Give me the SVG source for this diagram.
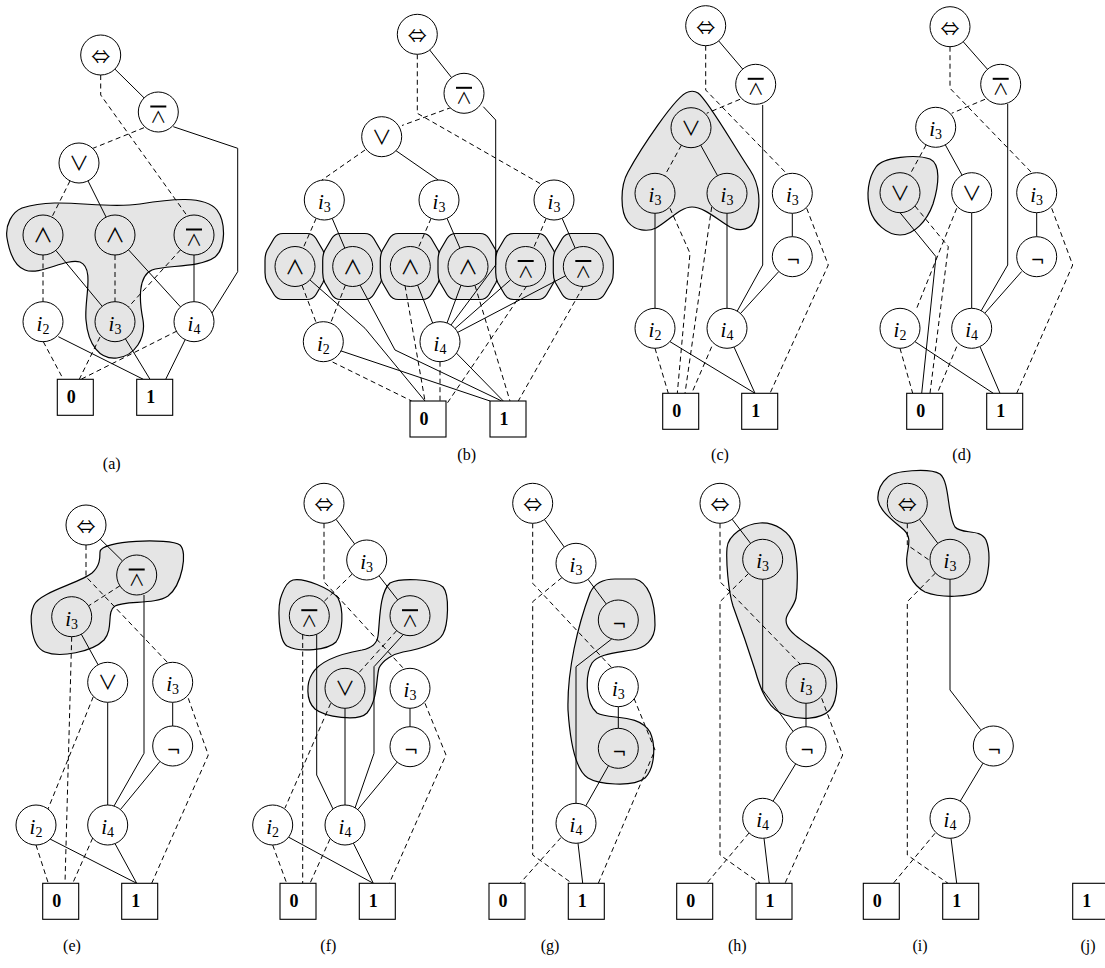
<svg xmlns="http://www.w3.org/2000/svg" xmlns:xlink="http://www.w3.org/1999/xlink" width="1105" height="968" viewBox="0 0 1105 968">
<style>
.nd circle{fill:#fff;stroke:#000;stroke-width:1}
.nd.hl circle{fill:#e5e5e5}
.tm rect{fill:#fff;stroke:#000;stroke-width:1.1}
.blob{fill:#e5e5e5;stroke:#000;stroke-width:1.2}
.e{fill:none;stroke:#000;stroke-width:1}
.d{stroke-dasharray:5 3.5}
.var{font-family:"Liberation Serif",serif;font-style:italic;font-size:21px;text-anchor:middle}
.sb{font-style:normal;font-size:14px}
.op{font-family:"Noto Sans CJK JP","DejaVu Sans",sans-serif;font-size:20px;text-anchor:middle}
.eq{font-family:"Noto Sans CJK JP","DejaVu Sans",sans-serif;font-size:19px;text-anchor:middle}
.na{font-family:"Noto Sans CJK JP","DejaVu Sans",sans-serif;font-size:16px;text-anchor:middle}
.ng{font-family:"DejaVu Sans",sans-serif;font-size:17px;text-anchor:middle}
.bar{stroke:#000;stroke-width:2}
.tt{font-family:"Liberation Serif",serif;font-weight:bold;font-size:18px;text-anchor:middle}
.cap{font-family:"Liberation Serif",serif;font-size:16px;text-anchor:middle}
</style>
<defs>
<path id="oct" fill="#e5e5e5" stroke="#000" stroke-width="1.2" d="M-12,-33 L12,-33 Q18,-33 21,-28 L28,-16 Q30,-12 30,-6 L30,6 Q30,12 28,16 L21,28 Q18,33 12,33 L-12,33 Q-18,33 -21,28 L-28,16 Q-30,12 -30,6 L-30,-6 Q-30,-12 -28,-16 L-21,-28 Q-18,-33 -12,-33 Z"/>
</defs>

<!-- ===== (a) ===== -->
<g id="fig-a">
<g id="a-blobs"><path class="blob" d="M7,238 C5,225 12,212 22,208 C60,196 100,210 140,204 C170,199 205,195 217,210 C226,222 226,248 215,257 C200,268 165,265 152,270 C138,276 139,300 143,320 C146,338 135,356 117,358 C100,360 88,345 86,320 C84,300 95,268 80,262 C65,258 40,276 25,270 C14,266 9,250 7,238 Z"/></g>
<g id="a-edges">
<path class="e" d="M114.9,69.1 L144.1,97.9"/>
<path class="e d" d="M100.7,75 V95 L188,217"/>
<path class="e d" d="M144,127.7 L93,148.3"/>
<path class="e" d="M173.3,126.7 L237.7,148.3 V271.7 L212,313"/>
<path class="e d" d="M70,180.9 L51.9,217.1"/>
<path class="e" d="M88,180.9 L106.1,217.1"/>
<path class="e d" d="M43,255 V301.7"/>
<path class="e" d="M55.8,250.4 L102.2,306.3"/>
<path class="e d" d="M115,255 V301.7"/>
<path class="e" d="M128.5,249.8 L180.5,306.9"/>
<path class="e d" d="M180.5,249.8 L128.5,306.9"/>
<path class="e" d="M194,255 V301.7"/>
<path class="e d" d="M43.3,341.7 L63.3,379.3"/>
<path class="e" d="M58.3,336.7 L143.3,379.3"/>
<path class="e d" d="M100,337 L79.3,379.3"/>
<path class="e" d="M125.4,338.8 L150,379.3"/>
<path class="e d" d="M177,331 L81,379.3"/>
<path class="e" d="M185.2,339.6 L165.7,379.3"/>
</g>
<g id="a-eq" class="nd"><circle cx="100.7" cy="55" r="20"/><text class="eq" x="100.7" y="64">⇔</text></g>
<g id="a-nand" class="nd"><circle cx="158.3" cy="112" r="20"/><line class="bar" x1="150.3" y1="106.5" x2="166.3" y2="106.5"/><text class="na" x="158.3" y="123">∧</text></g>
<g id="a-or" class="nd"><circle cx="79" cy="163" r="20"/><text class="op" x="79" y="171">∨</text></g>
<g id="a-and1" class="nd hl"><circle cx="43" cy="235" r="20"/><text class="op" x="43" y="243">∧</text></g>
<g id="a-and2" class="nd hl"><circle cx="115" cy="235" r="20"/><text class="op" x="115" y="243">∧</text></g>
<g id="a-nand2" class="nd hl"><circle cx="194" cy="235" r="20"/><line class="bar" x1="186" y1="229.5" x2="202" y2="229.5"/><text class="na" x="194" y="246">∧</text></g>
<g id="a-i2" class="nd"><circle cx="43" cy="321.7" r="20"/><text class="var" x="43" y="330.7">i<tspan class="sb" dy="3">2</tspan></text></g>
<g id="a-i3" class="nd hl"><circle cx="115" cy="321.7" r="20"/><text class="var" x="115" y="330.7">i<tspan class="sb" dy="3">3</tspan></text></g>
<g id="a-i4" class="nd"><circle cx="194" cy="321.7" r="20"/><text class="var" x="194" y="330.7">i<tspan class="sb" dy="3">4</tspan></text></g>
<g id="a-t0" class="tm"><rect x="57.3" y="379.3" width="36" height="36"/><text class="tt" x="71.3" y="403.3">0</text></g>
<g id="a-t1" class="tm"><rect x="136.7" y="379.3" width="36" height="36"/><text class="tt" x="150.7" y="403.3">1</text></g>
<text class="cap" x="111.7" y="469">(a)</text>
</g>

<!-- ===== (b) ===== -->
<g id="fig-b">
<g id="b-blobs">
<use xlink:href="#oct" x="295" y="266.5"/>
<use xlink:href="#oct" x="352.7" y="266.5"/>
<use xlink:href="#oct" x="410.3" y="266.5"/>
<use xlink:href="#oct" x="468" y="266.5"/>
<use xlink:href="#oct" x="525.7" y="266.5"/>
<use xlink:href="#oct" x="583.3" y="266.5"/>
</g>
<g id="b-edges">
<path class="e" d="M429.7,50 L451.6,77.6"/>
<path class="e d" d="M417.3,54.3 V113.3 L540,183.5"/>
<path class="e d" d="M451.7,107.3 L402,125.5"/>
<path class="e" d="M483.3,106.7 L495.7,120 V265 L451,325"/>
<path class="e d" d="M365,150 L322,180"/>
<path class="e" d="M395,150 L438.3,180"/>
<path class="e d" d="M316.2,218.3 L303.1,248.2"/>
<path class="e" d="M332.2,218.4 L344.8,248.1"/>
<path class="e d" d="M431.1,218.4 L418.2,248.1"/>
<path class="e" d="M447,218.3 L460,248.2"/>
<path class="e d" d="M546.2,218.4 L533.5,248.1"/>
<path class="e" d="M562.1,218.3 L575.2,248.2"/>
<path class="e d" d="M302,285.2 L316.3,323"/>
<path class="e" d="M310,280 L365,328.3 L425,401"/>
<path class="e d" d="M345.4,285.1 L330.6,323.1"/>
<path class="e" d="M360,285 L395,350 L501.7,401"/>
<path class="e d" d="M405,285.5 L425,401"/>
<path class="e" d="M417.6,285.1 L432.7,323.1"/>
<path class="e" d="M461,285.2 L447,323"/>
<path class="e d" d="M475,285.5 L510,401"/>
<path class="e" d="M510.7,279.7 L455,328.5"/>
<path class="e d" d="M526.7,286 L446,405"/>
<path class="e" d="M565.6,275.8 L457.7,332.4"/>
<path class="e d" d="M583.3,286.5 L518.3,401"/>
<path class="e d" d="M325,358.3 L411.7,401"/>
<path class="e" d="M338.3,350 L490,401"/>
<path class="e d" d="M440,361.7 V401"/>
<path class="e" d="M455,351.7 L503.3,401"/>
</g>
<g id="b-eq" class="nd"><circle cx="417.3" cy="34.3" r="20"/><text class="eq" x="417.3" y="43.3">⇔</text></g>
<g id="b-nand" class="nd"><circle cx="464" cy="93.3" r="20"/><line class="bar" x1="456" y1="87.8" x2="472" y2="87.8"/><text class="na" x="464" y="104.3">∧</text></g>
<g id="b-or" class="nd"><circle cx="381.7" cy="136.7" r="20"/><text class="op" x="381.7" y="144.7">∨</text></g>
<g id="b-i3a" class="nd"><circle cx="324.3" cy="200" r="20"/><text class="var" x="324.3" y="209">i<tspan class="sb" dy="3">3</tspan></text></g>
<g id="b-i3b" class="nd"><circle cx="439" cy="200" r="20"/><text class="var" x="439" y="209">i<tspan class="sb" dy="3">3</tspan></text></g>
<g id="b-i3c" class="nd"><circle cx="554" cy="200" r="20"/><text class="var" x="554" y="209">i<tspan class="sb" dy="3">3</tspan></text></g>
<g id="b-g1" class="nd hl"><circle cx="295" cy="266.5" r="20"/><text class="op" x="295" y="274.5">∧</text></g>
<g id="b-g2" class="nd hl"><circle cx="352.7" cy="266.5" r="20"/><text class="op" x="352.7" y="274.5">∧</text></g>
<g id="b-g3" class="nd hl"><circle cx="410.3" cy="266.5" r="20"/><text class="op" x="410.3" y="274.5">∧</text></g>
<g id="b-g4" class="nd hl"><circle cx="468" cy="266.5" r="20"/><text class="op" x="468" y="274.5">∧</text></g>
<g id="b-g5" class="nd hl"><circle cx="525.7" cy="266.5" r="20"/><line class="bar" x1="517.7" y1="261" x2="533.7" y2="261"/><text class="na" x="525.7" y="277.5">∧</text></g>
<g id="b-g6" class="nd hl"><circle cx="583.3" cy="266.5" r="20"/><line class="bar" x1="575.3" y1="261" x2="591.3" y2="261"/><text class="na" x="583.3" y="277.5">∧</text></g>
<g id="b-i2" class="nd"><circle cx="323.3" cy="341.7" r="20"/><text class="var" x="323.3" y="350.7">i<tspan class="sb" dy="3">2</tspan></text></g>
<g id="b-i4" class="nd"><circle cx="440" cy="341.7" r="20"/><text class="var" x="440" y="350.7">i<tspan class="sb" dy="3">4</tspan></text></g>
<g id="b-t0" class="tm"><rect x="410" y="401" width="36" height="36"/><text class="tt" x="424" y="425">0</text></g>
<g id="b-t1" class="tm"><rect x="490" y="401" width="36" height="36"/><text class="tt" x="504" y="425">1</text></g>
<text class="cap" x="466.7" y="460">(b)</text>
</g>

<!-- ===== (c) ===== -->
<g id="fig-c">
<g id="c-blobs"><path class="blob" d="M688,92 C676,95 640,150 628,172 C620,186 620,212 628,222 C635,231 648,232 656,228 C670,220 680,207 692,207 C704,207 718,220 730,227 C740,232 752,230 756,218 C761,205 760,185 750,170 C735,148 708,100 698,93 C695,91 691,91 688,92 Z"/></g>
<g id="c-edges">
<path class="e" d="M718.7,40.9 L742.7,69.1"/>
<path class="e d" d="M705.7,45.7 V90 L787,174"/>
<path class="e d" d="M740,99.3 L706.7,113.3"/>
<path class="e" d="M762.7,105 V265 L737,311.5"/>
<path class="e d" d="M681.4,145.2 L664.6,175.8"/>
<path class="e" d="M700.7,145.2 L717.6,175.8"/>
<path class="e" d="M655,213.3 V308.3"/>
<path class="e d" d="M670,208.3 L690,253.3 L677.3,393.3"/>
<path class="e d" d="M711.7,207 L685,393.3"/>
<path class="e" d="M727,213.3 V308.3"/>
<path class="e" d="M792.3,213.3 V236.7"/>
<path class="e d" d="M806.7,208.3 L828.3,265 L770,393.3"/>
<path class="e" d="M778.8,271.5 L740.5,313.5"/>
<path class="e d" d="M655,348.3 L668.3,393.3"/>
<path class="e" d="M670,341.7 L755,393.3"/>
<path class="e d" d="M711.7,346.7 L691.7,393.3"/>
<path class="e" d="M734,347 L755,393.3"/>
</g>
<g id="c-eq" class="nd"><circle cx="705.7" cy="25.7" r="20"/><text class="eq" x="705.7" y="34.7">⇔</text></g>
<g id="c-nand" class="nd"><circle cx="755.7" cy="84.3" r="20"/><line class="bar" x1="747.7" y1="78.8" x2="763.7" y2="78.8"/><text class="na" x="755.7" y="95.3">∧</text></g>
<g id="c-or" class="nd hl"><circle cx="691" cy="127.7" r="20"/><text class="op" x="691" y="135.7">∨</text></g>
<g id="c-i3a" class="nd hl"><circle cx="655" cy="193.3" r="20"/><text class="var" x="655" y="202.3">i<tspan class="sb" dy="3">3</tspan></text></g>
<g id="c-i3b" class="nd hl"><circle cx="727" cy="193.3" r="20"/><text class="var" x="727" y="202.3">i<tspan class="sb" dy="3">3</tspan></text></g>
<g id="c-i3c" class="nd"><circle cx="792.3" cy="193.3" r="20"/><text class="var" x="792.3" y="202.3">i<tspan class="sb" dy="3">3</tspan></text></g>
<g id="c-not" class="nd"><circle cx="792.3" cy="256.7" r="20"/><text class="ng" x="793.3" y="266.3">¬</text></g>
<g id="c-i2" class="nd"><circle cx="655" cy="328.3" r="20"/><text class="var" x="655" y="337.3">i<tspan class="sb" dy="3">2</tspan></text></g>
<g id="c-i4" class="nd"><circle cx="727" cy="328.3" r="20"/><text class="var" x="727" y="337.3">i<tspan class="sb" dy="3">4</tspan></text></g>
<g id="c-t0" class="tm"><rect x="662.7" y="393.3" width="36" height="36"/><text class="tt" x="676.7" y="417.3">0</text></g>
<g id="c-t1" class="tm"><rect x="741.7" y="393.3" width="36" height="36"/><text class="tt" x="755.7" y="417.3">1</text></g>
<text class="cap" x="720" y="460">(c)</text>
</g>

<!-- ===== (d) ===== -->
<g id="fig-d">
<g id="d-blobs"><path class="blob" d="M876,167 C883,157 916,154 930,159 C941,164 939,185 933,204 C927,221 914,235 900,235 C887,235 874,223 870,210 C866,195 868,178 876,167 Z"/></g>
<g id="d-edges">
<path class="e" d="M963.2,41.7 L987.5,69.3"/>
<path class="e d" d="M950,46.7 V88.3 L1032,173"/>
<path class="e d" d="M985,99.3 L951.7,113.3"/>
<path class="e" d="M1007.7,104 V265 L981,311"/>
<path class="e d" d="M926.1,144.9 L909.6,175.1"/>
<path class="e" d="M945.3,144.8 L962.1,175.2"/>
<path class="e" d="M900,212.7 L936,256.7 L921.7,393.3"/>
<path class="e d" d="M915,206 L948.3,246.7 L930,393.3"/>
<path class="e d" d="M956.7,208.3 L916.7,308.3"/>
<path class="e" d="M971.7,212.7 V308.3"/>
<path class="e" d="M1036.7,212.7 V236.7"/>
<path class="e d" d="M1051.7,208.3 L1072.7,265 L1016.7,393.3"/>
<path class="e" d="M1021.7,271.5 L985,313"/>
<path class="e d" d="M900,348.3 L912.7,393.3"/>
<path class="e" d="M915,341.7 L993.3,393.3"/>
<path class="e d" d="M956.7,346.7 L937.3,393.3"/>
<path class="e" d="M980,346.7 L1000,393.3"/>
</g>
<g id="d-eq" class="nd"><circle cx="950" cy="26.7" r="20"/><text class="eq" x="950" y="35.7">⇔</text></g>
<g id="d-nand" class="nd"><circle cx="1000.7" cy="84.3" r="20"/><line class="bar" x1="992.7" y1="78.8" x2="1008.7" y2="78.8"/><text class="na" x="1000.7" y="95.3">∧</text></g>
<g id="d-i3" class="nd"><circle cx="935.7" cy="127.3" r="20"/><text class="var" x="935.7" y="136.3">i<tspan class="sb" dy="3">3</tspan></text></g>
<g id="d-or1" class="nd hl"><circle cx="900" cy="192.7" r="20"/><text class="op" x="900" y="200.7">∨</text></g>
<g id="d-or2" class="nd"><circle cx="971.7" cy="192.7" r="20"/><text class="op" x="971.7" y="200.7">∨</text></g>
<g id="d-i3c" class="nd"><circle cx="1036.7" cy="192.7" r="20"/><text class="var" x="1036.7" y="201.7">i<tspan class="sb" dy="3">3</tspan></text></g>
<g id="d-not" class="nd"><circle cx="1036.7" cy="256.7" r="20"/><text class="ng" x="1037.7" y="266.3">¬</text></g>
<g id="d-i2" class="nd"><circle cx="900" cy="328.3" r="20"/><text class="var" x="900" y="337.3">i<tspan class="sb" dy="3">2</tspan></text></g>
<g id="d-i4" class="nd"><circle cx="971.7" cy="328.3" r="20"/><text class="var" x="971.7" y="337.3">i<tspan class="sb" dy="3">4</tspan></text></g>
<g id="d-t0" class="tm"><rect x="906.7" y="393.3" width="36" height="36"/><text class="tt" x="920.7" y="417.3">0</text></g>
<g id="d-t1" class="tm"><rect x="986.7" y="393.3" width="36" height="36"/><text class="tt" x="1000.7" y="417.3">1</text></g>
<text class="cap" x="961.7" y="460">(d)</text>
</g>

<!-- ===== (e) ===== -->
<g id="fig-e">
<g id="e-blobs"><path class="blob" d="M100,552 C100,540 170,538 180,545 C188,552 182,585 168,596 C155,605 125,600 115,606 C106,612 114,628 104,640 C92,652 60,658 45,652 C30,646 29,615 34,605 C40,592 80,583 92,573 C100,566 100,558 100,552 Z"/></g>
<g id="e-edges">
<path class="e" d="M100.2,539 L122.5,561"/>
<path class="e d" d="M86,545 V576.7 L168,663"/>
<path class="e d" d="M119.9,585.8 L88.5,605.9"/>
<path class="e" d="M144,595 V753.3 L114,806"/>
<path class="e d" d="M71.7,636.7 L65,883.3"/>
<path class="e" d="M81.3,634.2 L98.1,664.8"/>
<path class="e d" d="M93.3,696.7 L48,809"/>
<path class="e" d="M107.7,702.3 V805"/>
<path class="e" d="M172.7,702.3 V726"/>
<path class="e d" d="M188.3,698.3 L208.3,755 L151.7,883.3"/>
<path class="e" d="M160,761.4 L120.4,809.6"/>
<path class="e d" d="M36,845 L48.3,883.3"/>
<path class="e" d="M50,839 L136.7,883.3"/>
<path class="e d" d="M92.7,838 L72.7,883.3"/>
<path class="e" d="M115,843.6 L136.7,883.3"/>
</g>
<g id="e-eq" class="nd"><circle cx="86" cy="525" r="20"/><text class="eq" x="86" y="534">⇔</text></g>
<g id="e-nand" class="nd hl"><circle cx="136.7" cy="575" r="20"/><line class="bar" x1="128.7" y1="569.5" x2="144.7" y2="569.5"/><text class="na" x="136.7" y="586">∧</text></g>
<g id="e-i3a" class="nd hl"><circle cx="71.7" cy="616.7" r="20"/><text class="var" x="71.7" y="625.7">i<tspan class="sb" dy="3">3</tspan></text></g>
<g id="e-or" class="nd"><circle cx="107.7" cy="682.3" r="20"/><text class="op" x="107.7" y="690.3">∨</text></g>
<g id="e-i3c" class="nd"><circle cx="172.7" cy="682.3" r="20"/><text class="var" x="172.7" y="691.3">i<tspan class="sb" dy="3">3</tspan></text></g>
<g id="e-not" class="nd"><circle cx="172.7" cy="746" r="20"/><text class="ng" x="173.7" y="755.6">¬</text></g>
<g id="e-i2" class="nd"><circle cx="36" cy="825" r="20"/><text class="var" x="36" y="834">i<tspan class="sb" dy="3">2</tspan></text></g>
<g id="e-i4" class="nd"><circle cx="107.7" cy="825" r="20"/><text class="var" x="107.7" y="834">i<tspan class="sb" dy="3">4</tspan></text></g>
<g id="e-t0" class="tm"><rect x="42.7" y="883.3" width="36" height="36"/><text class="tt" x="56.7" y="907.3">0</text></g>
<g id="e-t1" class="tm"><rect x="121.7" y="883.3" width="36" height="36"/><text class="tt" x="135.7" y="907.3">1</text></g>
<text class="cap" x="72" y="951">(e)</text>
</g>

<!-- ===== (f) ===== -->
<g id="fig-f">
<g id="f-blobs">
<path class="blob" d="M293,580 C305,578 330,588 338,598 C344,610 343,632 336,642 C328,650 300,653 287,646 C278,640 277,605 282,594 C285,586 289,581 293,580 Z"/>
<path class="blob" d="M390,583 C400,578 432,578 443,587 C450,595 448,625 443,634 C437,645 415,650 403,652 C393,654 383,660 379,668 C376,678 378,700 367,713 C358,722 325,717 315,709 C305,700 307,682 312,674 C320,660 345,653 362,650 C372,648 377,644 378,636 C380,622 379,593 390,583 Z"/>
</g>
<g id="f-edges">
<path class="e" d="M336,519.3 L354.7,544"/>
<path class="e d" d="M324,523.3 V581.7 L404,669"/>
<path class="e d" d="M352.3,573.9 L323.7,601.8"/>
<path class="e" d="M379,575.8 L397.7,599.9"/>
<path class="e d" d="M302.7,634.5 V883.3"/>
<path class="e" d="M316.7,634.5 V775 L333,809"/>
<path class="e d" d="M396.7,630.6 L358.3,673.4"/>
<path class="e" d="M403.3,634.5 L374,666.7 V753.3 L355,808"/>
<path class="e d" d="M330.7,703.3 L285,808"/>
<path class="e" d="M345,708.3 V805"/>
<path class="e" d="M410,708.3 V726.7"/>
<path class="e d" d="M425,703.3 L446,755 L389.3,883.3"/>
<path class="e" d="M397.2,762.1 L357.8,809.6"/>
<path class="e d" d="M272.7,845 L286.7,883.3"/>
<path class="e" d="M288.3,837 L373.3,883.3"/>
<path class="e d" d="M330,839 L310,883.3"/>
<path class="e" d="M353.3,843 L373.3,883.3"/>
</g>
<g id="f-eq" class="nd"><circle cx="324" cy="503.3" r="20"/><text class="eq" x="324" y="512.3">⇔</text></g>
<g id="f-i3" class="nd"><circle cx="366.7" cy="560" r="20"/><text class="var" x="366.7" y="569">i<tspan class="sb" dy="3">3</tspan></text></g>
<g id="f-nand1" class="nd hl"><circle cx="309.3" cy="615.7" r="20"/><line class="bar" x1="301.3" y1="610.2" x2="317.3" y2="610.2"/><text class="na" x="309.3" y="626.7">∧</text></g>
<g id="f-nand2" class="nd hl"><circle cx="410" cy="615.7" r="20"/><line class="bar" x1="402" y1="610.2" x2="418" y2="610.2"/><text class="na" x="410" y="626.7">∧</text></g>
<g id="f-or" class="nd hl"><circle cx="345" cy="688.3" r="20"/><text class="op" x="345" y="696.3">∨</text></g>
<g id="f-i3c" class="nd"><circle cx="410" cy="688.3" r="20"/><text class="var" x="410" y="697.3">i<tspan class="sb" dy="3">3</tspan></text></g>
<g id="f-not" class="nd"><circle cx="410" cy="746.7" r="20"/><text class="ng" x="411" y="756.3">¬</text></g>
<g id="f-i2" class="nd"><circle cx="272.7" cy="825" r="20"/><text class="var" x="272.7" y="834">i<tspan class="sb" dy="3">2</tspan></text></g>
<g id="f-i4" class="nd"><circle cx="345" cy="825" r="20"/><text class="var" x="345" y="834">i<tspan class="sb" dy="3">4</tspan></text></g>
<g id="f-t0" class="tm"><rect x="280" y="883.3" width="36" height="36"/><text class="tt" x="294" y="907.3">0</text></g>
<g id="f-t1" class="tm"><rect x="359.3" y="883.3" width="36" height="36"/><text class="tt" x="373.3" y="907.3">1</text></g>
<text class="cap" x="328.3" y="951">(f)</text>
</g>

<!-- ===== (g) ===== -->
<g id="fig-g">
<g id="g-blobs"><path class="blob" d="M590,593 C595,582 605,579 615,579 L635,579 C648,582 655,600 655,625 C655,640 645,648 632,650 C615,653 598,654 592,663 C585,675 585,703 597,713 C610,720 638,713 650,732 C656,745 655,768 645,778 C632,788 598,784 588,778 C575,770 570,740 568,710 C567,670 578,625 590,593 Z"/></g>
<g id="g-edges">
<path class="e" d="M544.4,519.5 L564.3,547.1"/>
<path class="e d" d="M532.7,523.3 V583.3 L612,668"/>
<path class="e d" d="M562,577.5 L532.7,601.7 V855 L572,883.3"/>
<path class="e" d="M588,579.3 L606.3,604"/>
<path class="e" d="M611.7,639 L576,666.7 V803.3"/>
<path class="e" d="M618.3,706.7 V728.3"/>
<path class="e d" d="M634,698.3 L655,750 L598.3,883.3"/>
<path class="e" d="M608.5,765.7 L585.8,805.9"/>
<path class="e d" d="M561,837.5 L520,883.3"/>
<path class="e" d="M578,843.2 L582.7,883.3"/>
</g>
<g id="g-eq" class="nd"><circle cx="532.7" cy="503.3" r="20"/><text class="eq" x="532.7" y="512.3">⇔</text></g>
<g id="g-i3" class="nd"><circle cx="576" cy="563.3" r="20"/><text class="var" x="576" y="572.3">i<tspan class="sb" dy="3">3</tspan></text></g>
<g id="g-not1" class="nd hl"><circle cx="618.3" cy="620" r="20"/><text class="ng" x="619.3" y="629.6">¬</text></g>
<g id="g-i3c" class="nd"><circle cx="618.3" cy="686.7" r="20"/><text class="var" x="618.3" y="695.7">i<tspan class="sb" dy="3">3</tspan></text></g>
<g id="g-not2" class="nd hl"><circle cx="618.3" cy="748.3" r="20"/><text class="ng" x="619.3" y="757.9">¬</text></g>
<g id="g-i4" class="nd"><circle cx="576" cy="823.3" r="20"/><text class="var" x="576" y="832.3">i<tspan class="sb" dy="3">4</tspan></text></g>
<g id="g-t0" class="tm"><rect x="489" y="883.3" width="36" height="36"/><text class="tt" x="503" y="907.3">0</text></g>
<g id="g-t1" class="tm"><rect x="568.3" y="883.3" width="36" height="36"/><text class="tt" x="582.3" y="907.3">1</text></g>
<text class="cap" x="550" y="951">(g)</text>
</g>

<!-- ===== (h) ===== -->
<g id="fig-h">
<g id="h-blobs"><path class="blob" d="M727,548 C728,535 745,524 760,523 C775,522 790,532 794,545 C798,560 798,585 796,598 C793,610 783,615 787,625 C792,638 818,648 830,662 C840,675 838,700 830,710 C820,720 800,720 785,715 C770,710 762,695 755,670 C748,648 740,625 733,606 C728,590 726,560 727,548 Z"/></g>
<g id="h-edges">
<path class="e" d="M732.1,519.2 L750.6,543.4"/>
<path class="e d" d="M720,523.3 V581.7 L800,664"/>
<path class="e d" d="M748.5,573.5 L720,601.7 V855 L760,883.3"/>
<path class="e" d="M762.7,579.3 V690 L793.3,731.7"/>
<path class="e" d="M806,703.3 V726.7"/>
<path class="e d" d="M821.7,698.3 L842.7,755 L785,883.3"/>
<path class="e" d="M795.7,763.8 L773,801.2"/>
<path class="e d" d="M749,833 L706.7,883.3"/>
<path class="e" d="M764,838.3 L769.3,883.3"/>
</g>
<g id="h-eq" class="nd"><circle cx="720" cy="503.3" r="20"/><text class="eq" x="720" y="512.3">⇔</text></g>
<g id="h-i3a" class="nd hl"><circle cx="762.7" cy="559.3" r="20"/><text class="var" x="762.7" y="568.3">i<tspan class="sb" dy="3">3</tspan></text></g>
<g id="h-i3b" class="nd hl"><circle cx="806" cy="683.3" r="20"/><text class="var" x="806" y="692.3">i<tspan class="sb" dy="3">3</tspan></text></g>
<g id="h-not" class="nd"><circle cx="806" cy="746.7" r="20"/><text class="ng" x="807" y="756.3">¬</text></g>
<g id="h-i4" class="nd"><circle cx="762.7" cy="818.3" r="20"/><text class="var" x="762.7" y="827.3">i<tspan class="sb" dy="3">4</tspan></text></g>
<g id="h-t0" class="tm"><rect x="676.7" y="883.3" width="36" height="36"/><text class="tt" x="690.7" y="907.3">0</text></g>
<g id="h-t1" class="tm"><rect x="756" y="883.3" width="36" height="36"/><text class="tt" x="770" y="907.3">1</text></g>
<text class="cap" x="737.3" y="951">(h)</text>
</g>

<!-- ===== (i) ===== -->
<g id="fig-i">
<g id="i-blobs"><path class="blob" d="M887,478 C893,470 930,468 940,474 C950,482 947,515 955,527 C962,535 980,528 986,540 C991,552 990,580 980,590 C970,598 940,598 925,592 C912,585 905,570 907,556 C908,546 912,538 904,530 C895,522 880,512 878,500 C877,490 882,482 887,478 Z"/></g>
<g id="i-edges">
<path class="e" d="M919.4,519.2 L937.9,543.4"/>
<path class="e d" d="M907.3,523.3 V545 L930.5,561"/>
<path class="e d" d="M935.5,573 L907.3,601.7 V855 L948,883.3"/>
<path class="e" d="M950,579.3 V690 L980.7,729.7"/>
<path class="e" d="M983,763.2 L960.3,801.1"/>
<path class="e d" d="M935,833.3 L893.3,883.3"/>
<path class="e" d="M951,838.3 L956.7,883.3"/>
</g>
<g id="i-eq" class="nd hl"><circle cx="907.3" cy="503.3" r="20"/><text class="eq" x="907.3" y="512.3">⇔</text></g>
<g id="i-i3" class="nd hl"><circle cx="950" cy="559.3" r="20"/><text class="var" x="950" y="568.3">i<tspan class="sb" dy="3">3</tspan></text></g>
<g id="i-not" class="nd"><circle cx="993.3" cy="746" r="20"/><text class="ng" x="994.3" y="755.6">¬</text></g>
<g id="i-i4" class="nd"><circle cx="950" cy="818.3" r="20"/><text class="var" x="950" y="827.3">i<tspan class="sb" dy="3">4</tspan></text></g>
<g id="i-t0" class="tm"><rect x="863.3" y="883.3" width="36" height="36"/><text class="tt" x="877.3" y="907.3">0</text></g>
<g id="i-t1" class="tm"><rect x="942.7" y="883.3" width="36" height="36"/><text class="tt" x="956.7" y="907.3">1</text></g>
<text class="cap" x="920" y="951">(i)</text>
</g>

<!-- ===== (j) ===== -->
<g id="fig-j">
<g id="j-t1" class="tm"><rect x="1072.7" y="883.3" width="36" height="36"/><text class="tt" x="1086.7" y="907.3">1</text></g>
<text class="cap" x="1088" y="951">(j)</text>
</g>
</svg>
